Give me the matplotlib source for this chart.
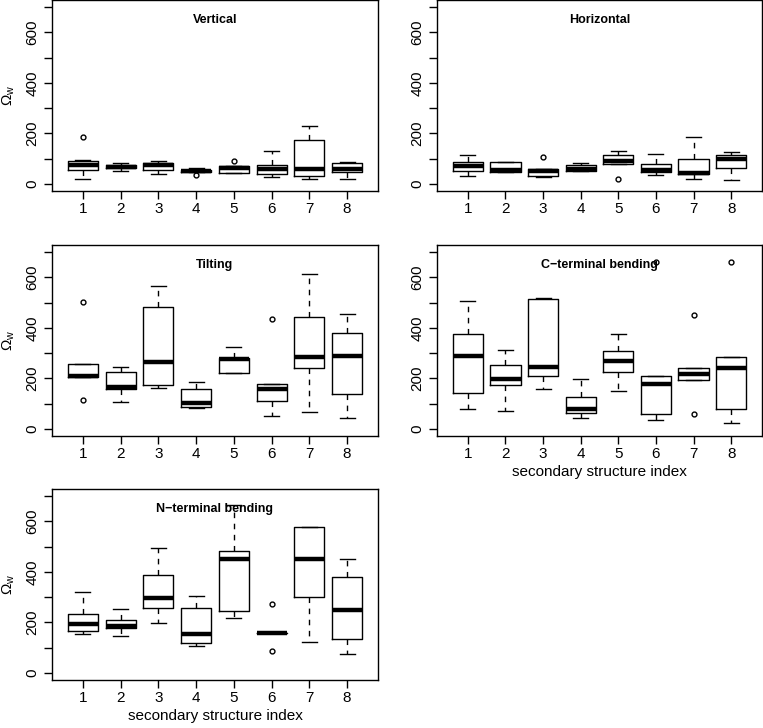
import matplotlib
matplotlib.use("Agg")
import matplotlib.pyplot as plt

plt.rcParams['font.family'] = ['Liberation Sans', 'DejaVu Sans']
plt.rcParams['mathtext.fontset'] = 'custom'
plt.rcParams['mathtext.rm'] = 'Liberation Sans'
plt.rcParams['mathtext.it'] = 'Liberation Sans:italic'

# --- data ---
idx = [1, 2, 3, 4, 5, 6, 7, 8]
y_ticks = [0, 100, 200, 300, 400, 500, 600, 700]
y_labels = ['0', '', '200', '', '400', '', '600', '']

vert_med = [76, 67, 73, 53, 62, 60, 60, 60]
vert_q1 = [57, 62, 57, 48, 42, 40, 30, 49]
vert_q3 = [90, 75, 82, 57, 69, 76, 173, 82]
vert_lo = [20, 50, 38, 48, 42, 27, 19, 20]
vert_hi = [95, 82, 90, 62, 70, 131, 228, 86]
vert_out = [[185], [], [], [35], [92], [], [], []]

hor_med = [72, 54, 50, 61, 91, 54, 45, 97]
hor_q1 = [53, 46, 32, 53, 80, 46, 38, 62]
hor_q3 = [85, 85, 58, 73, 114, 77, 99, 113]
hor_lo = [33, 46, 28, 53, 80, 34, 19, 15]
hor_hi = [114, 87, 61, 83, 132, 117, 187, 127]
hor_out = [[], [], [107], [], [19], [], [], []]

tilt_med = [209, 166, 266, 102, 275, 159, 285, 289]
tilt_q1 = [205, 160, 172, 85, 222, 110, 241, 139]
tilt_q3 = [258, 225, 483, 159, 282, 179, 444, 380]
tilt_lo = [205, 105, 162, 82, 222, 50, 66, 42]
tilt_hi = [258, 245, 567, 185, 326, 179, 612, 456]
tilt_out = [[502, 115], [], [], [], [], [436], [], []]

cterm_med = [289, 196, 245, 77, 268, 176, 216, 242]
cterm_q1 = [143, 175, 211, 65, 224, 58, 192, 79]
cterm_q3 = [374, 252, 514, 126, 309, 211, 242, 285]
cterm_lo = [77, 69, 160, 45, 151, 34, 192, 23]
cterm_hi = [507, 311, 519, 196, 374, 211, 242, 285]
cterm_out = [[], [], [], [], [], [660], [450, 58], [660]]

nterm_med = [195, 186, 295, 153, 450, 158, 451, 248]
nterm_q1 = [166, 178, 256, 117, 244, 158, 301, 134]
nterm_q3 = [235, 210, 386, 258, 481, 158, 576, 380]
nterm_lo = [155, 146, 198, 106, 219, 158, 121, 74]
nterm_hi = [321, 252, 494, 305, 664, 158, 576, 451]
nterm_out = [[], [], [], [], [], [272, 86], [], []]

panels = [
    ("Vertical", vert_med, vert_q1, vert_q3, vert_lo, vert_hi, vert_out),
    ("Horizontal", hor_med, hor_q1, hor_q3, hor_lo, hor_hi, hor_out),
    ("Tilting", tilt_med, tilt_q1, tilt_q3, tilt_lo, tilt_hi, tilt_out),
    ("C\u2212terminal bending", cterm_med, cterm_q1, cterm_q3, cterm_lo, cterm_hi, cterm_out),
    ("N\u2212terminal bending", nterm_med, nterm_q1, nterm_q3, nterm_lo, nterm_hi, nterm_out),
]

# --- layout (pixel boxes of the reference) ---
W, H = 763, 728
col_left = [52, 437]
col_width = [326, 325]
row_top = [0, 245, 489]
box_h = 191

fig = plt.figure(figsize=(W / 100, H / 100), dpi=100)

for k, (name, med, q1, q3, lo, hi, out) in enumerate(panels):
    r, c = divmod(k, 2)
    ax = fig.add_axes([col_left[c] / W, (H - row_top[r] - box_h) / H,
                       col_width[c] / W, box_h / H])

    stats = []
    for i in range(len(idx)):
        stats.append(dict(med=med[i], q1=q1[i], q3=q3[i],
                          whislo=lo[i], whishi=hi[i], fliers=out[i]))

    ax.bxp(stats, positions=idx, widths=0.8, capwidths=0.4,
           boxprops=dict(color='black', linewidth=1.0),
           whiskerprops=dict(color='black', linewidth=1.0, linestyle=(0, (4, 4))),
           capprops=dict(color='black', linewidth=1.0),
           medianprops=dict(color='black', linewidth=3.2, solid_capstyle='butt'),
           flierprops=dict(marker='o', markerfacecolor='none', markeredgecolor='black',
                           markersize=3.5, markeredgewidth=1.0))

    ax.set_xlim(0.18, 8.82)
    ax.set_ylim(-28, 728)
    ax.set_xticks(idx)
    ax.set_xticklabels([str(v) for v in idx])
    ax.set_yticks(y_ticks)
    ax.set_yticklabels(y_labels, rotation=90, va='center')
    ax.tick_params(direction='out', length=6, width=1.0, labelsize=11, colors='black')
    ax.tick_params(axis='x', pad=2)
    ax.tick_params(axis='y', pad=3)
    for sp in ax.spines.values():
        sp.set_linewidth(1.0)
        sp.set_color('black')

    ax.text(0.5, 1 - 20 / box_h, name, transform=ax.transAxes,
            ha='center', va='center', fontsize=9, fontweight='bold')

    if c == 0:
        ax.set_ylabel(r'$\Omega_\mathrm{w}$', fontsize=11)
        ax.yaxis.set_label_coords(-(col_left[c] - 9) / col_width[c], 0.5)
        ax.yaxis.label.set_va('center')
    if k >= 3:
        ax.set_xlabel("secondary structure index", fontsize=11)
        ax.xaxis.set_label_coords(0.5, -36 / box_h)
        ax.xaxis.label.set_va('center')

fig.savefig("out.png", dpi=100)
